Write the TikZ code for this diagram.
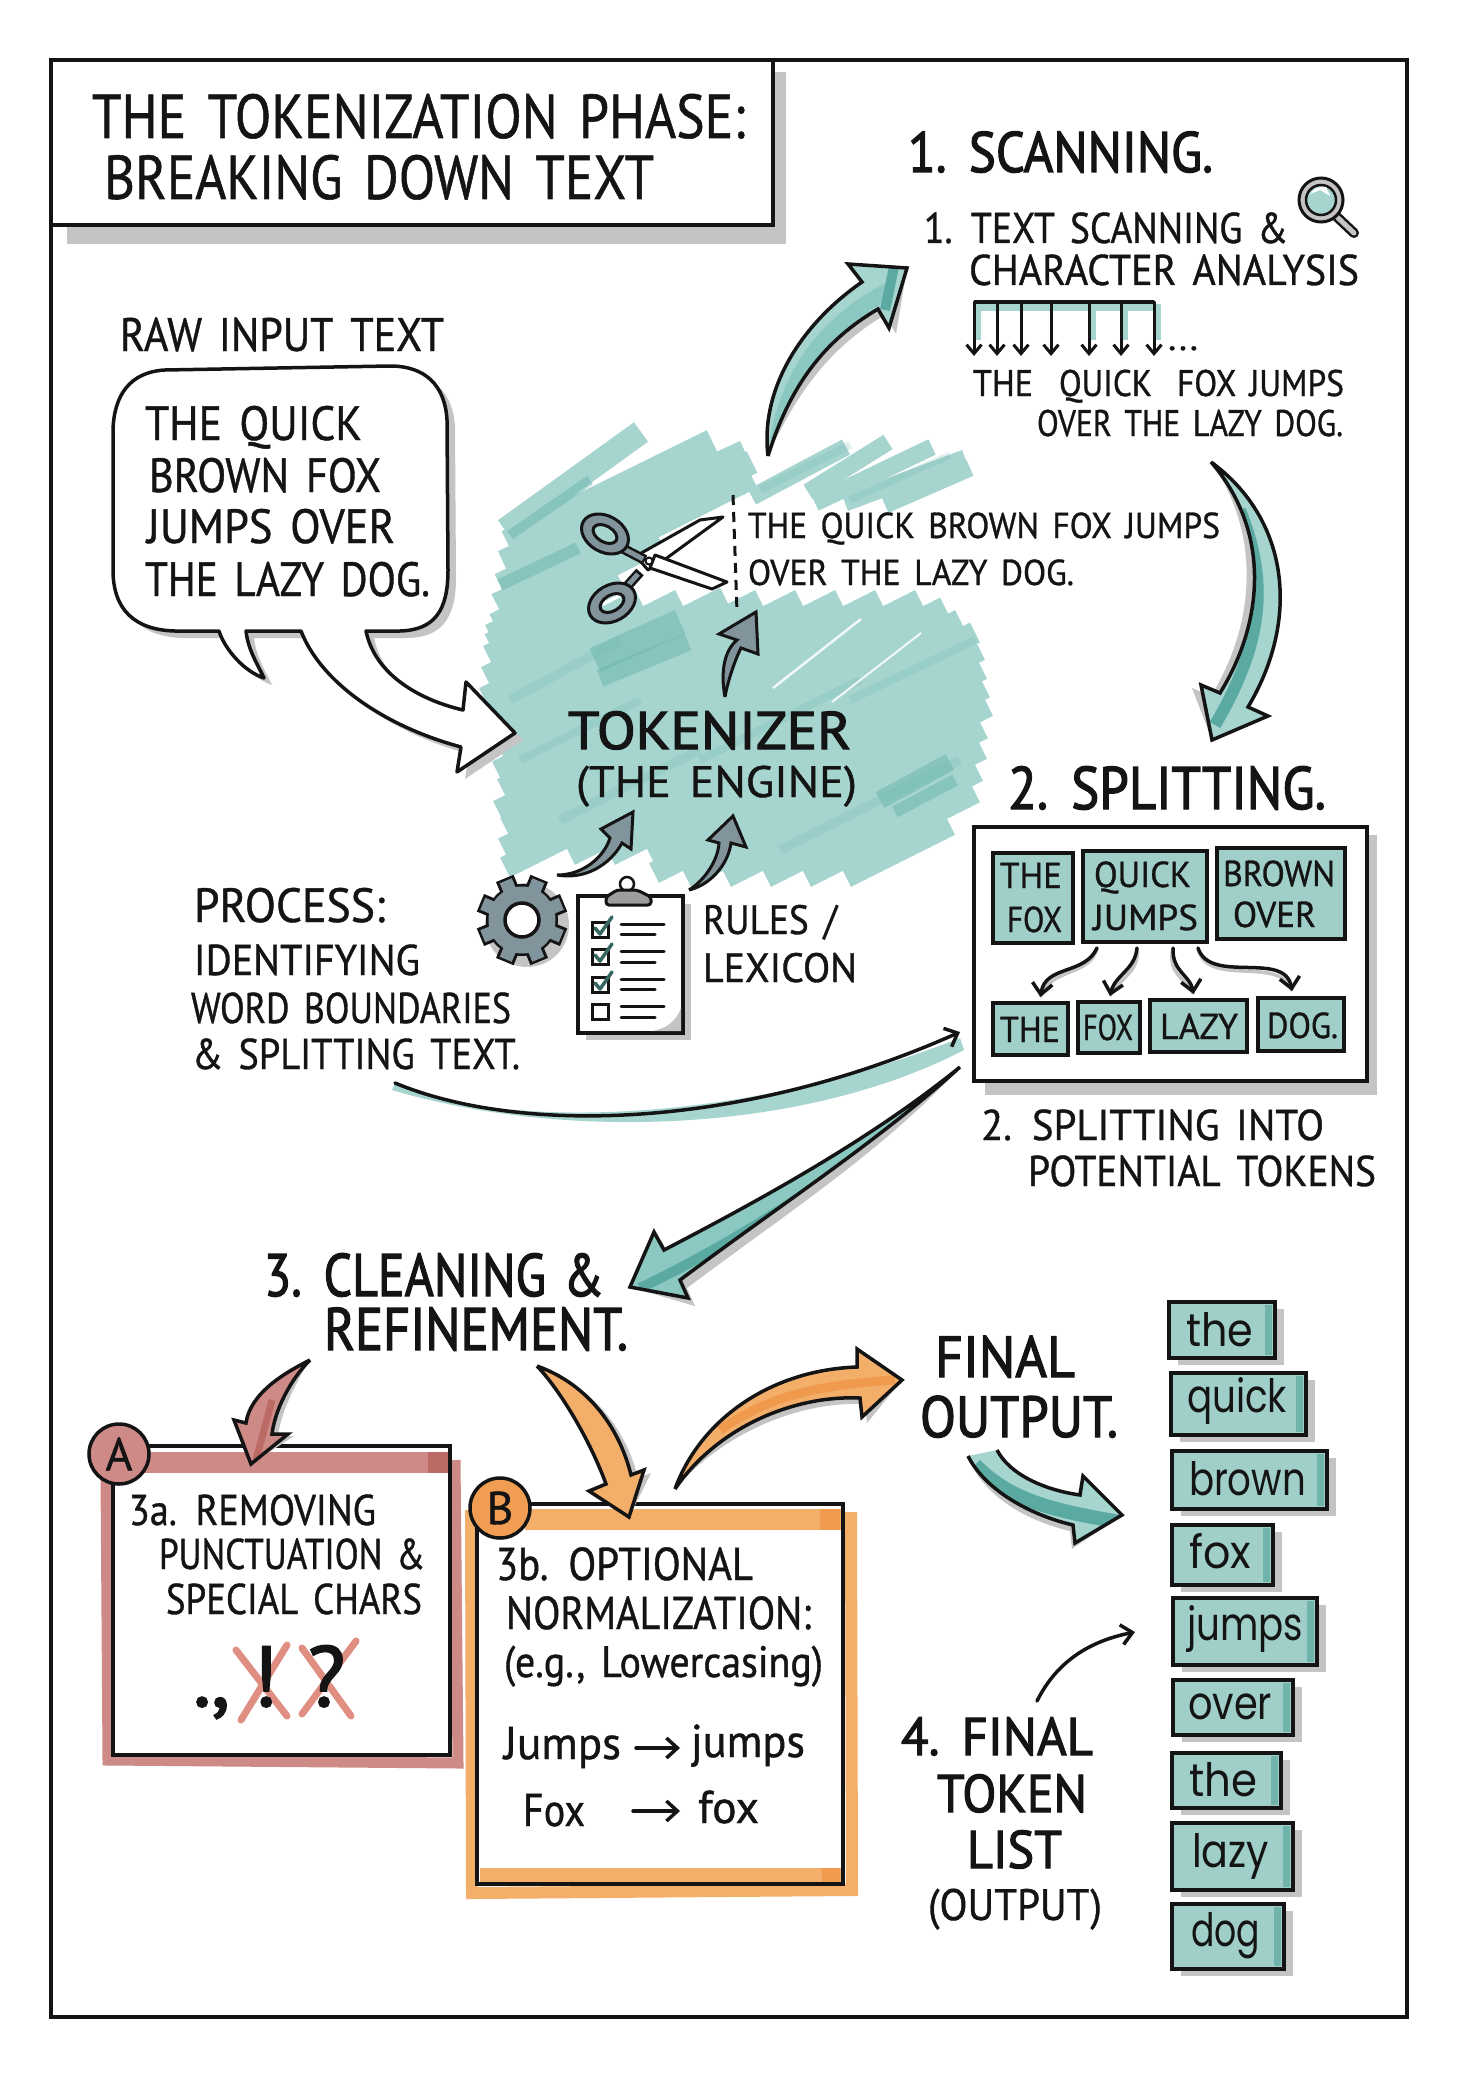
\documentclass[tikz,border=0pt]{standalone}
\usepackage{fontspec}
\usepackage{graphicx}
\usetikzlibrary{arrows.meta,calc}
\setmainfont{PT Sans}
\newfontfamily\nf{PT Sans}[FakeBold=0.9,WordSpace=1.5]
\newfontfamily\hf{PT Sans}[FakeBold=2.2,WordSpace=1.3]
\newfontfamily\lf{Poppins}
\definecolor{ink}{HTML}{141414}
\definecolor{shadowc}{HTML}{C4C4C4}
\definecolor{washc}{HTML}{A6D4CF}
\definecolor{washd}{HTML}{6FB8B0}
\definecolor{tokc}{HTML}{A0CFCA}
\definecolor{tokd}{HTML}{6FB3AB}
\definecolor{tealm}{HTML}{8CC8C2}
\definecolor{teald}{HTML}{5AAAA2}
\definecolor{redc}{HTML}{CE8A86}
\definecolor{redd}{HTML}{BC6A66}
\definecolor{orangec}{HTML}{F3AE6A}
\definecolor{oranged}{HTML}{F09A4E}
\definecolor{greyc}{HTML}{82949B}
\definecolor{xred}{HTML}{E08E82}
\tikzset{
  txt/.style={anchor=base west,inner sep=0pt,outer sep=0pt,text=ink},
  thick ink/.style={draw=ink,line width=3.5pt,line join=round,line cap=round},
  barbline/.style={draw=ink,line width=3.5pt,line cap=round,-{Straight Barb[length=11pt,width=20pt,line width=3.5pt]}},
  scanline/.style={draw=ink,line width=3pt,line cap=round,-{Straight Barb[length=9pt,width=15pt,line width=3pt]}},
  subbox/.style={draw=ink,line width=3.5pt,fill=tokc,inner sep=0pt,outer sep=0pt},
}
% name, x, baseline, right x, size, text
\newcommand\T[6][\nf]{\node[txt] (#2) at (#3,#4) {\resizebox{\dimexpr #5pt-#3pt\relax}{\height}{\fontsize{#6}{#6}\selectfont #1\relax\MakeTextArg}};}
\newcommand\TT[7][\nf]{\def\MakeTextArg{#7}\T[#1]{#2}{#3}{#4}{#5}{#6}}
% name x1 y1 x2 y2
\newcommand\Bx[5]{\node[subbox,minimum width={(#4-#2)*1pt},minimum height={(#5-#3)*1pt}] (#1) at ({(#2+#4)/2},{(#3+#5)/2}) {};}
% name x1 y1 x2 y2 textx base textx2 text
\newcommand\Tok[9]{%
  \fill[shadowc] ({#2+9},{#3+7}) rectangle ({#4+9},{#5+7});
  \Bx{#1}{#2}{#3}{#4}{#5}
  \fill[tokd] ({#4-10},{#3+3}) rectangle ({#4-3},{#5-3});
  \def\tkA{#6}\def\tkB{#7}\def\tkC{#8}\def\tkD{#9}%
  \TT[\lf]{#1t}{\tkA}{\tkB}{\tkC}{46}{\tkD}}
% shadow shift, light, dark, outline path, stripe path
\newcommand\Arrow[5]{%
  \fill[shadowc,shift={(#1)}] #4;
  \begin{scope}\clip #4; \fill[#2] (0,0) rectangle (1456,2076); #5 \end{scope}
  \draw[draw=ink,line width=3.5pt,line join=miter,miter limit=6] #4;}
\begin{document}
\begin{tikzpicture}[x=1pt,y=-1pt]
\useasboundingbox (0,0) rectangle (1456,2076);
\fill[white] (0,0) rectangle (1456,2076);
% ---------- marker wash ----------
\foreach \xa/\ya/\xb/\yb in {
 505/530/641/432, 507/542/712/441, 503/562/745/452, 500/585/752/462, 497/605/752/477, 
 495/625/660/540, 490/645/620/580}
  {\draw[washc,line width=24pt] (\xa,\ya) -- (\xb,\yb);}
\foreach \c/\xl/\xr in {
 880/490/560, 900/488/600, 920/486/640, 940/484/680, 960/490/725, 980/495/760, 1000/500/800,
 1020/497/840, 1040/502/880, 1060/498/920, 1080/505/945, 1100/503/960, 1120/505/975, 1140/570/980,
 1160/610/982, 1180/650/985, 1200/654/988, 1220/686/983, 1240/726/982, 1260/766/978, 1280/806/975, 1300/846/950}
  {\draw[washc,line width=22pt] (\xl,{\c-.5*\xl}) -- (\xr,{\c-.5*\xr});}
\foreach \xa/\ya/\xb/\yb in {
 752/497/846/447, 808/492/888/442, 815/503/932/447, 845/503/965/458, 885/505/970/468}
  {\draw[washc,line width=17pt] (\xa,\ya) -- (\xb,\yb);}
\foreach \xa/\ya/\xb/\yb/\w in {
 595/660/680/622/26, 600/678/688/642/18, 880/800/950/762/18, 895/812/955/780/12,
 500/585/578/548/12, 510/535/590/480/10}
  {\draw[washd,opacity=.55,line width=\w pt] (\xa,\ya) -- (\xb,\yb);}
\foreach \xa/\ya/\xb/\yb/\w in {
 510/700/620/640/9, 850/700/975/640/8, 560/820/700/750/9, 700/760/860/680/8, 520/760/640/700/8, 780/850/960/760/9,
 760/490/850/445/8, 850/500/950/455/7}
  {\draw[washd,opacity=.22,line width=\w pt] (\xa,\ya) -- (\xb,\yb);}
\draw[white,line width=2.5pt,opacity=.85] (773,688) -- (861,619);
\draw[white,line width=2pt,opacity=.85] (832,702) -- (921,633);
% ---------- frame ----------
\node[draw=ink,line width=3.5pt,minimum width=1356pt,minimum height=1957pt,inner sep=0pt] (frame) at (729,1038.5) {};
% ---------- title ----------
\fill[shadowc] (67,72) rectangle (786,244);
\node[draw=ink,fill=white,line width=4pt,minimum width=722pt,minimum height=165pt,inner sep=0pt] (titlebox) at (412,142.5) {};
\TT{t1}{92}{138}{745}{62}{THE TOKENIZATION PHASE:}
\TT{t2}{104}{199}{654}{62}{BREAKING DOWN TEXT}
% ---------- raw input ----------
\TT{raw}{120}{351}{444}{47}{RAW INPUT TEXT}
\def\bubble{(219,631) .. controls (225,650) and (245,672) .. (264,678) .. controls (258,665) and (248,650) .. (246,631) -- (301,631) .. controls (320,680) and (380,725) .. (461,747) -- (457,772) -- (515,733) -- (466,682) -- (463,710) .. controls (420,700) and (375,675) .. (366,631) -- (400,631) .. controls (435,630) and (448,610) .. (448,570) -- (447,420) .. controls (445,385) and (425,366) .. (390,366) -- (165,370) .. controls (130,372) and (114,395) .. (113,430) -- (113,570) .. controls (113,610) and (135,630) .. (175,631) -- cycle}
\fill[shadowc,shift={(8,7)}] \bubble;
\draw[fill=white,thick ink,miter limit=6] \bubble;
\TT{b1}{145}{440}{362}{48}{THE QUICK}
\TT{b2}{149}{492}{381}{48}{BROWN FOX}
\TT{b3}{147}{543}{395}{48}{JUMPS OVER}
\TT{b4}{145}{596}{430}{48}{THE LAZY DOG.}
% ---------- scissors ----------
\draw[ink,line width=3pt,dash pattern=on 10pt off 7pt] (733,495) -- (737,612);
\draw[fill=white,draw=ink,line width=3pt,line join=round] (636,556) -- (700,520) -- (723,517) -- (660,563) -- (648,570) -- cycle;
\draw[fill=white,draw=ink,line width=3pt,line join=round] (655,555) -- (727,582) -- (712,589) -- (650,568) -- cycle;
\draw[ink,line width=10pt] (645,560) -- (618,546);
\draw[ink,line width=10pt] (640,572) -- (622,592);
\draw[greyc,line width=5pt] (643,559) -- (618,546);
\draw[greyc,line width=5pt] (638,574) -- (622,592);
\draw[draw=ink,fill=greyc,even odd rule,line width=3pt] (605,534) ellipse [x radius=25pt,y radius=18pt,rotate=-30] (605,534) ellipse [x radius=13pt,y radius=8pt,rotate=-30];
\draw[draw=ink,fill=greyc,even odd rule,line width=3pt] (612,603) ellipse [x radius=25pt,y radius=18pt,rotate=30] (612,603) ellipse [x radius=13pt,y radius=8pt,rotate=30];
\draw[fill=white,draw=ink,line width=2pt] (649,561) circle (3.5pt);
\TT{cut1}{748}{538}{1220}{36}{THE QUICK BROWN FOX JUMPS}
\TT{cut2}{748}{585}{1074}{36}{OVER THE LAZY DOG.}
% grey arrows
\coordinate (gaT) at (725,697); \coordinate (gaH) at (756,612);
\draw[fill=greyc,draw=ink,line width=3pt,miter limit=6] (gaT) .. controls (720,670) and (725,650) .. (737,640) -- (719,634) -- (gaH) -- (758,654) -- (741,648) .. controls (735,660) and (728,680) .. (gaT);
% ---------- tokenizer ----------
\TT[\hf]{tok}{568}{749}{851}{53}{TOKENIZER}
\TT{eng}{576}{797}{857}{44}{(THE ENGINE)}
\coordinate (g1T) at (557,875); \coordinate (g1H) at (633,812);
\draw[fill=greyc,draw=ink,line width=3pt,miter limit=6] (g1T) .. controls (585,875) and (605,855) .. (610,838) -- (601,829) -- (g1H) -- (631,849) -- (622,843) .. controls (610,865) and (585,880) .. (g1T);
\coordinate (g2T) at (689,890); \coordinate (g2H) at (733,816);
\draw[fill=greyc,draw=ink,line width=3pt,miter limit=6] (g2T) .. controls (705,880) and (718,860) .. (719,843) -- (708,840) -- (g2H) -- (746,847) -- (731,843) .. controls (728,865) and (710,885) .. (g2T);
% ---------- gear ----------
\fill[shadowc] (527,925) circle (42pt);
\foreach \a in {0,45,...,315}{\fill[ink,shift={(522,920)},rotate=\a+22.5] (-9.5,-45) rectangle (9.5,-28);}
\fill[ink] (522,920) circle (36pt);
\foreach \a in {0,45,...,315}{\fill[greyc,shift={(522,920)},rotate=\a+22.5] (-6.5,-42.5) rectangle (6.5,-28);}
\fill[greyc] (522,920) circle (33.5pt);
\draw[fill=white,draw=ink,line width=3.5pt] (522,920) circle (17pt);
% ---------- clipboard ----------
\fill[shadowc] (586,904) rectangle (691,1040);
\draw[fill=white,draw=ink,line width=3.5pt] (578,896) rectangle (683,1033);
\fill[shadowc] (681,1008) .. controls (676,1022) and (665,1029) .. (652,1031) -- (681,1031) -- cycle;
\draw[fill=white,draw=ink,line width=2.5pt] (627,884) circle (7pt);
\draw[fill=shadowc!80!black,draw=ink,line width=3pt,rounded corners=3pt] (606,905) -- (606,897) -- (617,890) -- (637,890) -- (651,897) -- (651,905) -- cycle;
\foreach \y/\la/\lb/\chk in {929/924/931/1, 956/951/959/1, 984/979/986/1, 1011/1006/1014/0}{
  \draw[draw=ink,line width=3pt] (592,{\y-7}) rectangle (608,{\y+8});
  \ifnum\chk=1 \draw[draw=teald!60!black,line width=3.5pt,line cap=round,line join=round] (595,{\y-1}) -- (600,{\y+5}) -- (612,{\y-12}); \fi
  \draw[ink,line width=3pt,line cap=round] (621,\la) -- (664,\la);
  \draw[ink,line width=3pt,line cap=round] (621,\lb+3) -- (655,\lb+3);
}
\TT{rul}{703}{934}{837}{41}{RULES /}
\TT{lex}{703}{982}{857}{41}{LEXICON}
% ---------- process ----------
\TT{pr1}{194}{922}{385}{48}{PROCESS:}
\TT{pr2}{194}{975}{420}{43}{IDENTIFYING}
\TT{pr3}{191}{1023}{511}{43}{WORD BOUNDARIES}
\TT{pr4}{192}{1069}{520}{43}{\& SPLITTING TEXT.}
\coordinate (prS) at (395,1083); \coordinate (prE) at (960,1032);
\fill[washc] (prS) .. controls (500,1130) and (740,1125) .. (960,1038) -- (964,1050) .. controls (800,1135) and (560,1140) .. (392,1090) -- cycle;
\draw[barbline] (prS) .. controls (520,1135) and (740,1130) .. (prE);
% ---------- scanning ----------
\TT[\hf]{s0}{908}{172}{1213}{57}{1. SCANNING.}
\TT{s1}{924}{243}{1288}{43}{1. TEXT SCANNING \&}
\TT{s2}{969}{285}{1359}{43}{CHARACTER ANALYSIS}
% magnifier
\draw[ink,line width=10pt,line cap=round] (1336,216) -- (1354,233);
\draw[shadowc,line width=5pt,line cap=round] (1336,216) -- (1354,233);
\draw[fill=shadowc,draw=ink,line width=3pt] (1321,200) circle (22pt);
\draw[fill=washc,draw=ink,line width=2.5pt] (1321,200) circle (15pt);
\fill[white] (1310,194) .. controls (1314,188) and (1320,186) .. (1326,187) -- (1330,196) -- (1320,190) -- cycle;
% scan bar
\fill[washc] (974,304) rectangle (1154,311);
\foreach \x in {976,1091,1123,1156}{\fill[washc] (\x,304) rectangle ({\x+5},340);}
\draw[draw=ink,line width=3.5pt] (974,302) -- (1154,302);
\foreach \x/\n in {974/a,997/b,1021/c,1051/d,1089/e,1121/f,1154/g}{
  \coordinate (sc\n) at (\x,302);
  \coordinate (st\n) at (\x,356);
  \draw[scanline] (sc\n) -- (st\n);
}
\TT{dots}{1168}{350}{1198}{36}{...}
\TT{s3a}{973}{396}{1033}{37}{THE}
\TT{s3b}{1059}{396}{1152}{37}{QUICK}
\TT{s3c}{1177}{396}{1344}{37}{FOX JUMPS}
\TT{s4}{1037}{436}{1343}{37}{OVER THE LAZY DOG.}
% big arrow up
\coordinate (auT) at (768,456); \coordinate (auH) at (907,268);
\Arrow{7,6}{washc}{teald}{(auT) .. controls (760,390) and (800,325) .. (862,282) -- (848,264) -- (auH) -- (889,328) -- (878,309) .. controls (825,340) and (790,385) .. (auT)}{\draw[tealm,line width=16pt] (778,440) .. controls (790,370) and (830,320) .. (890,290); \draw[teald,line width=10pt] (895,262) -- (885,310);}
% big arrow down
\coordinate (adT) at (1211,462); \coordinate (adH) at (1212,740);
\Arrow{-9,3}{washc}{teald}{(adT) .. controls (1290,520) and (1300,620) .. (1248,707) -- (1268,716) -- (adH) -- (1201,685) -- (1220,693) .. controls (1265,620) and (1270,530) .. (adT)}{\draw[teald,line width=12pt] (1240,510) .. controls (1268,580) and (1265,640) .. (1215,725);}
% ---------- splitting ----------
\TT[\hf]{sp0}{1008}{809}{1326}{60}{2. SPLITTING.}
\node[fill=shadowc,minimum width=392pt,minimum height=260pt,inner sep=0pt] (spsh) at (1181,965) {};
\node[draw=ink,fill=white,line width=4pt,minimum width=393pt,minimum height=254pt,inner sep=0pt] (splitbox) at (1170,954) {};
\Bx{bTF}{993}{853}{1073}{943}
\Bx{bQJ}{1083}{851}{1207}{942}
\Bx{bBO}{1217}{848}{1345}{939}
\Bx{bT}{993}{1003}{1068}{1055}
\Bx{bF}{1078}{1002}{1140}{1053}
\Bx{bL}{1150}{1000}{1247}{1052}
\Bx{bD}{1258}{998}{1344}{1051}
\TT{x1}{1000}{888}{1062}{36}{THE}
\TT{x2}{1007}{932}{1062}{36}{FOX}
\TT{x3}{1094}{887}{1191}{36}{QUICK}
\TT{x4}{1093}{930}{1198}{36}{JUMPS}
\TT{x5}{1223}{886}{1335}{36}{BROWN}
\TT{x6}{1233}{927}{1316}{36}{OVER}
\TT{y1}{1000}{1042}{1060}{36}{THE}
\TT{y2}{1083}{1040}{1133}{36}{FOX}
\TT{y3}{1160}{1039}{1238}{36}{LAZY}
\TT{y4}{1267}{1038}{1338}{36}{DOG.}
\draw[shadowc,line width=3.5pt,shift={(5,2)}] ([xshift=-48pt,yshift=-6pt]bQJ.south) .. controls (1085,975) and (1045,965) .. ([xshift=10pt,yshift=6pt]bT.north);
\draw[shadowc,line width=3.5pt,shift={(5,2)}] ([xshift=-8pt,yshift=-6pt]bQJ.south) .. controls (1135,970) and (1115,975) .. ([xshift=1pt,yshift=6pt]bF.north);
\draw[shadowc,line width=3.5pt,shift={(-5,2)}] ([xshift=28pt,yshift=-6pt]bQJ.south) .. controls (1172,972) and (1190,975) .. ([xshift=-5pt,yshift=6pt]bL.north);
\draw[shadowc,line width=3.5pt,shift={(-4,4)}] ([xshift=53pt,yshift=-6pt]bQJ.south) .. controls (1210,985) and (1285,950) .. ([xshift=-9pt,yshift=7pt]bD.north);
\draw[barbline] ([xshift=-48pt,yshift=-6pt]bQJ.south) .. controls (1085,975) and (1045,965) .. ([xshift=10pt,yshift=6pt]bT.north);
\draw[barbline] ([xshift=-8pt,yshift=-6pt]bQJ.south) .. controls (1135,970) and (1115,975) .. ([xshift=1pt,yshift=6pt]bF.north);
\draw[barbline] ([xshift=28pt,yshift=-6pt]bQJ.south) .. controls (1172,972) and (1190,975) .. ([xshift=-5pt,yshift=6pt]bL.north);
\draw[barbline] ([xshift=53pt,yshift=-6pt]bQJ.south) .. controls (1210,985) and (1285,950) .. ([xshift=-9pt,yshift=7pt]bD.north);
\TT{z1}{981}{1140}{1324}{43}{2. SPLITTING INTO}
\TT{z2}{1028}{1186}{1376}{43}{POTENTIAL TOKENS}
% ---------- cleaning arrow ----------
\coordinate (clT) at (960,1067); \coordinate (clH) at (630,1287);
\Arrow{7,8}{tealm}{teald}{(clT) .. controls (870,1140) and (760,1200) .. (664,1250) -- (654,1232) -- (clH) -- (688,1298) -- (680,1280) .. controls (780,1205) and (880,1140) .. (clT)}{\draw[teald,line width=10pt] (930,1100) .. controls (840,1175) and (740,1240) .. (640,1288);}
\TT[\hf]{c1}{264}{1296}{604}{60}{3. CLEANING \&}
\TT[\hf]{c2}{324}{1350}{628}{60}{REFINEMENT.}
% ---------- box A ----------
\draw[redc,line width=11pt] (106,1475) -- (108,1760) -- (458,1763) -- (455,1460);
\fill[redc] (140,1452) rectangle (450,1473);
\fill[redd] (428,1452) rectangle (448,1473);
\node[draw=ink,line width=3.5pt,minimum width=337pt,minimum height=309pt,inner sep=0pt] (boxA) at (281.5,1600.5) {};
\node[draw=ink,fill=redc,line width=3.5pt,circle,minimum size=60pt,inner sep=0pt,text=ink,font=\fontsize{46}{46}\selectfont\nf] (circA) at (119,1454) {A};
\coordinate (raT) at (310,1360); \coordinate (raH) at (251,1464);
\Arrow{6,2}{redc}{redd}{(raT) .. controls (280,1375) and (250,1395) .. (246,1423) -- (234,1420) -- (raH) -- (288,1434) -- (272,1434) .. controls (275,1410) and (290,1380) .. (raT)}{\draw[redd,line width=7pt] (272,1400) -- (256,1460);}
\TT{a1}{129}{1525}{376}{43}{3a. REMOVING}
\TT{a2}{159}{1569}{425}{43}{PUNCTUATION \&}
\TT{a3}{166}{1614}{422}{43}{SPECIAL CHARS}
\draw[xred,line width=7pt,line cap=round] (236,1650) -- (287,1716);
\draw[xred,line width=7pt,line cap=round] (287,1645) -- (241,1720);
\draw[xred,line width=7pt,line cap=round] (302,1648) -- (351,1716);
\draw[xred,line width=7pt,line cap=round] (356,1641) -- (302,1714);
\node[txt,font=\fontsize{85}{85}\selectfont\hf] (pu1) at (193,1706) {.};
\node[txt,font=\fontsize{85}{85}\selectfont\hf] (pu2) at (211,1706) {,};
\node[txt,font=\fontsize{85}{85}\selectfont\hf] (pu3) at (252,1706) {!};
\node[txt,font=\fontsize{85}{85}\selectfont\hf] (pu4) at (308,1706) {?};
% ---------- box B ----------
\draw[orangec,line width=12pt] (471,1510) -- (472,1893) -- (852,1890) -- (851,1512);
\fill[orangec] (525,1509) rectangle (842,1530);
\fill[oranged] (820,1509) rectangle (840,1530);
\fill[orangec] (480,1868) rectangle (842,1884);
\fill[oranged] (822,1868) rectangle (840,1884);
\node[draw=ink,line width=3.5pt,minimum width=366pt,minimum height=380pt,inner sep=0pt] (boxB) at (660,1694) {};
\node[draw=ink,fill=oranged!80!orangec,line width=3.5pt,circle,minimum size=60pt,inner sep=0pt,text=ink,font=\fontsize{46}{46}\selectfont\nf] (circB) at (500,1508) {B};
\coordinate (odT) at (537,1366); \coordinate (odH) at (629,1517);
\Arrow{7,3}{orangec}{oranged}{(odT) .. controls (560,1390) and (590,1440) .. (606,1484) -- (589,1491) -- (odH) -- (644,1470) -- (631,1475) .. controls (620,1430) and (590,1385) .. (odT)}{}
\TT{o1}{496}{1580}{753}{46}{3b. OPTIONAL}
\TT{o2}{506}{1629}{811}{46}{NORMALIZATION:}
\TT{o3}{504}{1677}{823}{44}{(e.g., Lowercasing)}
\TT{j1}{504}{1759}{621}{46}{Jumps}
\TT{j2}{691}{1757}{805}{46}{jumps}
\TT{f1}{523}{1826}{585}{46}{Fox}
\TT{f2}{698}{1823}{759}{46}{fox}
\draw[barbline] ([xshift=15pt,yshift=11pt]j1.base east) -- ([xshift=-11pt,yshift=9pt]j2.base west);
\draw[barbline] ([xshift=48pt,yshift=15pt]f1.base east) -- ([xshift=-18pt,yshift=12pt]f2.base west);
% ---------- final output ----------
\coordinate (ouT) at (675,1489); \coordinate (ouH) at (902,1380);
\Arrow{5,6}{orangec}{oranged}{(ouT) .. controls (700,1420) and (770,1370) .. (857,1367) -- (857,1349) -- (ouH) -- (862,1417) -- (860,1398) .. controls (790,1395) and (715,1430) .. (ouT)}{\draw[oranged,line width=9pt] (720,1430) .. controls (770,1395) and (820,1385) .. (895,1380);}
\TT[\hf]{fo1}{935}{1377}{1075}{58}{FINAL}
\TT[\hf]{fo2}{920}{1437}{1118}{58}{OUTPUT.}
\coordinate (ftT) at (968,1456); \coordinate (ftH) at (1122,1515);
\Arrow{-3,6}{washc}{teald}{(ftT) .. controls (985,1490) and (1030,1515) .. (1073,1525) -- (1075,1543) -- (ftH) -- (1083,1476) -- (1080,1495) .. controls (1045,1490) and (1010,1475) .. (997,1450)}{\draw[teald,line width=14pt] (975,1465) .. controls (1010,1500) and (1050,1510) .. (1120,1522);}
\coordinate (liS) at (1037,1701); \coordinate (liE) at (1135,1632);
\draw[barbline] (liS) .. controls (1055,1665) and (1085,1642) .. (liE);
\TT[\hf]{l1}{901}{1755}{1093}{53}{4. FINAL}
\TT[\hf]{l2}{937}{1812}{1087}{53}{TOKEN}
\TT[\hf]{l3}{967}{1868}{1062}{53}{LIST}
\TT{l4}{928}{1920}{1102}{44}{(OUTPUT)}
% ---------- tokens ----------
\Tok{k1}{1169}{1302}{1275}{1358}{1186}{1346}{1253}{the}
\Tok{k2}{1171}{1373}{1306}{1435}{1187}{1412}{1287}{quick}
\Tok{k3}{1172}{1451}{1327}{1509}{1189}{1495}{1306}{brown}
\Tok{k4}{1172}{1525}{1273}{1585}{1189}{1568}{1251}{fox}
\Tok{k5}{1173}{1598}{1317}{1665}{1187}{1640}{1303}{jumps}
\Tok{k6}{1173}{1680}{1293}{1735}{1188}{1719}{1272}{over}
\Tok{k7}{1172}{1753}{1281}{1808}{1189}{1796}{1257}{the}
\Tok{k8}{1172}{1823}{1293}{1890}{1192}{1867}{1269}{lazy}
\Tok{k9}{1172}{1904}{1284}{1969}{1191}{1946}{1260}{dog}
\end{tikzpicture}
\end{document}
